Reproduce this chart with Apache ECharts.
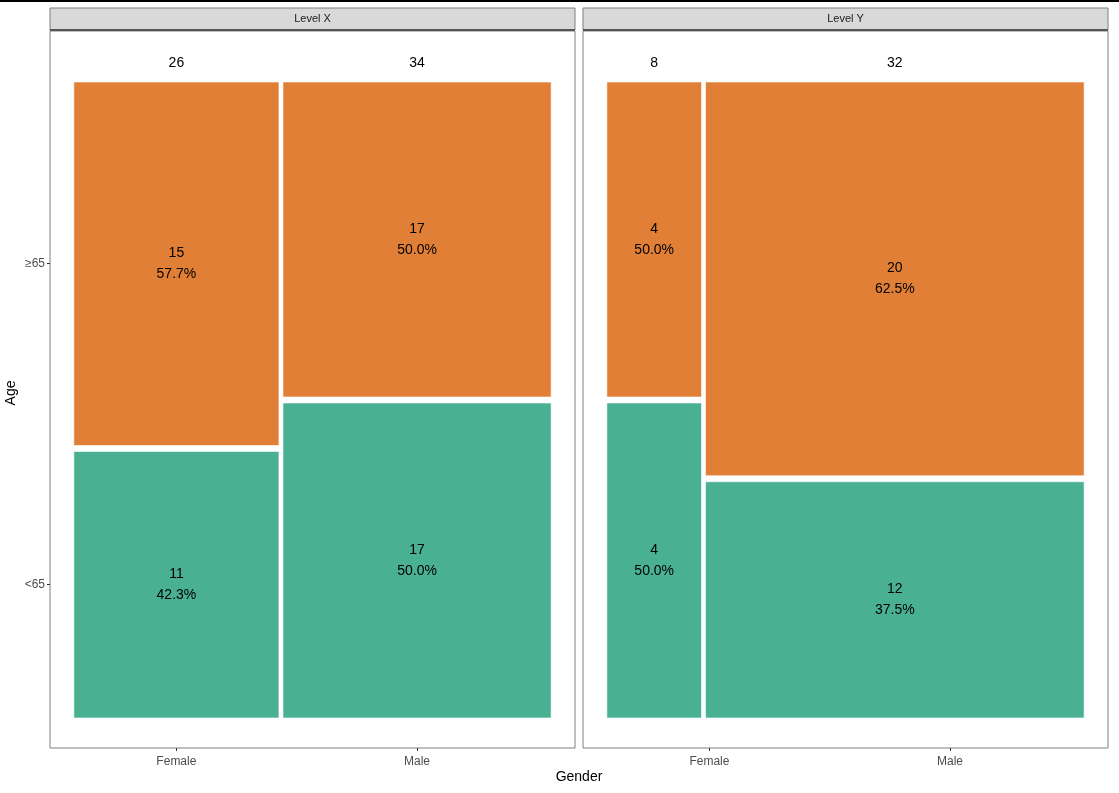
<!DOCTYPE html>
<html>
<head>
<meta charset="utf-8">
<script src="https://cdn.jsdelivr.net/npm/echarts@6/dist/echarts.min.js"></script>
<style>html,body{margin:0;padding:0;background:#fff;}#c{width:1119px;height:793px;}</style>
</head>
<body>
<div id="c"></div>
<script>
// ---- data ----
const levels = ['Level X', 'Level Y'];
const genders = ['Female', 'Male'];
const ageLabels = ['<65', '\u226565'];
const levelXUnder65 = [11, 17];
const levelXOver65 = [15, 17];
const levelYUnder65 = [4, 12];
const levelYOver65 = [4, 20];
const under65 = [levelXUnder65, levelYUnder65];
const over65 = [levelXOver65, levelYOver65];

// ---- style ----
const FONT = 'Liberation Sans, Arial, sans-serif';
const colors = ['#49B192', '#E07F35'];
const gapX = 0.0084, gapY = 0.0094;
const panels = [{ left: 50, right: 575 }, { left: 583, right: 1108 }];
const gridTop = 31, gridBottom = 748;

// mosaic layout (ggmosaic-like) per facet, normalized 0..1
function layout(li) {
  const tot = genders.map((g, gi) => under65[li][gi] + over65[li][gi]);
  const grand = tot.reduce((a, b) => a + b, 0);
  const avail = 1 - gapX * (genders.length - 1);
  let x = 0;
  const rects = [], tops = [];
  genders.forEach((g, gi) => {
    const w = avail * tot[gi] / grand;
    const availY = 1 - gapY;
    const hU = availY * under65[li][gi] / tot[gi];
    rects.push([x, x + w, 0, hU, under65[li][gi], Math.round(1000 * under65[li][gi] / tot[gi]) / 10, 0]);
    rects.push([x, x + w, hU + gapY, 1, over65[li][gi], Math.round(1000 * over65[li][gi] / tot[gi]) / 10, 1]);
    tops.push([x + w / 2, 1.03, tot[gi]]);
    x += w + gapX;
  });
  return { rects, tops };
}
const L = levels.map((l, i) => layout(i));
// shared breaks taken from the first facet
const xBreaks = L[0].rects.filter((r, i) => i % 2 === 0).map(r => +((r[0] + r[1]) / 2).toFixed(4));
const yBreaks = [ +((L[0].rects[0][2] + L[0].rects[0][3]) / 2).toFixed(4), +((L[0].rects[1][2] + L[0].rects[1][3]) / 2).toFixed(4) ];

function nearestLabel(v, breaks, labels) {
  let bi = 0, bd = Infinity;
  breaks.forEach((b, i) => { const d = Math.abs(b - v); if (d < bd) { bd = d; bi = i; } });
  return labels[bi];
}

const chart = echarts.init(document.getElementById('c'), null, { renderer: 'canvas' });

const grids = panels.map(p => ({
  left: p.left, width: p.right - p.left, top: gridTop, height: gridBottom - gridTop,
  show: true, borderColor: '#808080', borderWidth: 1, backgroundColor: '#fff', containLabel: false
}));

const xAxes = panels.map((p, i) => ({
  type: 'value', gridIndex: i, min: -0.05, max: 1.05, position: 'bottom',
  splitLine: { show: false }, axisLine: { show: false, onZero: false },
  axisTick: { show: true, length: 3, lineStyle: { color: '#333' }, customValues: xBreaks },
  axisLabel: { show: true, customValues: xBreaks, color: '#4D4D4D', fontSize: 12, fontFamily: FONT, margin: 8,
    formatter: v => nearestLabel(v, xBreaks, genders) }
}));

const yMin = -30 / 636, yMax = 687 / 636;
const yAxes = panels.map((p, i) => ({
  type: 'value', gridIndex: i, min: yMin, max: yMax, position: 'left',
  splitLine: { show: false }, axisLine: { show: false, onZero: false },
  axisTick: { show: i === 0, length: 3, lineStyle: { color: '#333' }, customValues: yBreaks },
  axisLabel: { show: i === 0, customValues: yBreaks, color: '#4D4D4D', fontSize: 12, fontFamily: FONT, margin: 5,
    formatter: v => nearestLabel(v, yBreaks, ageLabels) }
}));

const series = [];
L.forEach((lay, i) => {
  series.push({
    type: 'custom', xAxisIndex: i, yAxisIndex: i, data: lay.rects, silent: true,
    renderItem: function (params, api) {
      const x0 = api.value(0), x1 = api.value(1), y0 = api.value(2), y1 = api.value(3);
      const n = api.value(4), pct = api.value(5), a = api.value(6);
      const p0 = api.coord([x0, y1]), p1 = api.coord([x1, y0]);
      return {
        type: 'group', children: [
          { type: 'rect', shape: { x: p0[0], y: p0[1], width: p1[0] - p0[0], height: p1[1] - p0[1] },
            style: { fill: colors[a], stroke: 'rgba(255,255,255,0.6)', lineWidth: 1 } },
          { type: 'text', style: { text: n + '\n' + pct.toFixed(1) + '%', x: (p0[0] + p1[0]) / 2, y: (p0[1] + p1[1]) / 2,
            align: 'center', verticalAlign: 'middle', fontSize: 14, fontFamily: FONT, lineHeight: 21, fill: '#000' } }
        ]
      };
    }
  });
  series.push({
    type: 'custom', xAxisIndex: i, yAxisIndex: i, data: lay.tops, silent: true,
    renderItem: function (params, api) {
      const p = api.coord([api.value(0), api.value(1)]);
      return { type: 'text', style: { text: String(api.value(2)), x: p[0], y: p[1], align: 'center', verticalAlign: 'middle',
        fontSize: 14, fontFamily: FONT, fill: '#000' } };
    }
  });
});

const graphics = [
  { type: 'rect', shape: { x: 0, y: 0, width: 1119, height: 2 }, style: { fill: '#000' } }
];
panels.forEach((p, i) => {
  graphics.push({ type: 'rect', shape: { x: p.left, y: 8, width: p.right - p.left, height: 22 },
    style: { fill: '#D9D9D9', stroke: '#808080', lineWidth: 1 } });
  graphics.push({ type: 'line', shape: { x1: p.left, y1: 30, x2: p.right, y2: 30 }, style: { stroke: '#555', lineWidth: 2 } });
  graphics.push({ type: 'text', style: { text: levels[i], x: (p.left + p.right) / 2, y: 19, align: 'center', verticalAlign: 'middle',
    fontSize: 11, fontFamily: FONT, fill: '#1A1A1A' } });
});
graphics.push({ type: 'text', style: { text: 'Gender', x: 579, y: 777, align: 'center', verticalAlign: 'middle', fontSize: 14, fontFamily: FONT, fill: '#000' } });
graphics.push({ type: 'text', rotation: Math.PI / 2, x: 11, y: 393, style: { text: 'Age', x: 0, y: 0, align: 'center', verticalAlign: 'middle', fontSize: 14, fontFamily: FONT, fill: '#000' } });

chart.setOption({
  animation: false,
  backgroundColor: '#fff',
  grid: grids, xAxis: xAxes, yAxis: yAxes, series: series, graphic: graphics
});
</script>
</body>
</html>
